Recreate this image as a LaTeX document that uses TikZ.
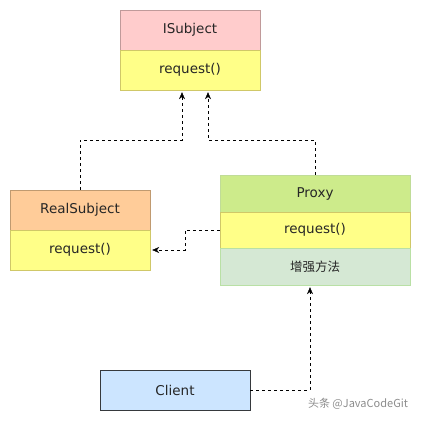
\documentclass[tikz,border=0pt]{standalone}
\usepackage{fontspec}
\setmainfont{DejaVu Sans}
\newfontfamily\cjk{Noto Sans CJK SC}
\usetikzlibrary{arrows.meta}
\definecolor{pinkfill}{HTML}{FFCCCC}
\definecolor{pinkline}{HTML}{C09A9A}
\definecolor{yelfill}{HTML}{FFFF88}
\definecolor{yelline}{HTML}{D0C868}
\definecolor{orfill}{HTML}{FFCC99}
\definecolor{orline}{HTML}{C09A70}
\definecolor{grfill}{HTML}{CDEB8B}
\definecolor{grline}{HTML}{C0DC98}
\definecolor{ltfill}{HTML}{D5E8D4}
\definecolor{ltline}{HTML}{B9E0A5}
\definecolor{blfill}{HTML}{CCE5FF}
\definecolor{blline}{HTML}{36393D}
\begin{document}
\begin{tikzpicture}[x=1pt, y=-1pt,
    box/.style={rectangle, inner sep=0pt, font=\fontsize{13.5}{15}\selectfont, text=black!85},
    dep/.style={draw=black, dash pattern=on 3pt off 3pt, -{Stealth[length=7pt,width=6pt]}}]

    \useasboundingbox (0,0) rectangle (421,421);

    \node[box, minimum width=140, minimum height=40, fill=pinkfill, draw=pinkline] (ish) at (190, 30) {ISubject};
    \node[box, minimum width=140, minimum height=40, fill=yelfill, draw=yelline] (ism) at (190, 70) {request()};
    \node[box, minimum width=140, minimum height=40, fill=orfill, draw=orline] (rsh) at (80, 210) {RealSubject};
    \node[box, minimum width=140, minimum height=40, fill=yelfill, draw=yelline] (rsm) at (80, 250) {request()};
    \node[box, minimum width=190, minimum height=37, fill=grfill, draw=grline] (pxh) at (315, 193.5) {Proxy};
    \node[box, minimum width=190, minimum height=36, fill=yelfill, draw=yelline] (pxm) at (315, 230) {request()};
    \node[box, minimum width=190, minimum height=37, fill=ltfill, draw=ltline] (pxe) at (315, 266.5) {\cjk\fontsize{12.5}{14}\selectfont 增强方法};
    \node[box, minimum width=150, minimum height=40, fill=blfill, draw=blline] (cl) at (175, 390) {Client};
    \node[text=black!45, font=\cjk\fontsize{11}{13}\selectfont] (wm) at (358, 404) {头条 @JavaCodeGit};

    \draw [dep, shorten >=2pt] (rsh.north) -- ++(0,-50) -| ([xshift=-8pt]ism.south);
    \draw [dep, shorten >=2pt] (pxh.north) -- ++(0,-35) -| ([xshift=18pt]ism.south);
    \draw [dep, shorten >=2pt] (pxm.west) -- ++(-35,0) |- (rsm.east);
    \draw [dep, shorten >=2pt] (cl.east) -| ([xshift=-5pt]pxe.south);

\end{tikzpicture}
\end{document}
